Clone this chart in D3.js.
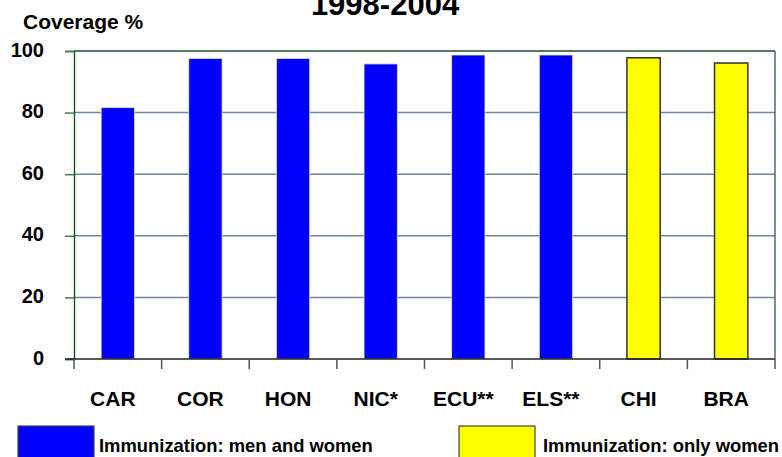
<!DOCTYPE html>
<html>
<head>
<meta charset="utf-8">
<script src="https://cdn.jsdelivr.net/npm/d3@7"></script>
<style>
html,body{margin:0;padding:0;background:#fff;}
svg{display:block;font-family:Arial,"Liberation Sans",sans-serif;font-weight:bold;}
</style>
</head>
<body>
<svg id="chart" width="782" height="457"></svg>
<script>
const categories = ["CAR","COR","HON","NIC*","ECU**","ELS**","CHI","BRA"];
const values = [81.6, 97.6, 97.6, 95.8, 98.7, 98.7, 97.8, 96.1];
const groups = ["both","both","both","both","both","both","women","women"];
const yTicks = [0,20,40,60,80,100];
const legendLabels = ["Immunization: men and women","Immunization: only women"];
const titleText = "1998-2004";
const yTitle = "Coverage %";

const colors = {both:"#0000ff", women:"#ffff00"};
const strokes = {both:"#e6e6a8", women:"#333333"};

const svg = d3.select("#chart");
const x0 = 74, x1 = 775, yBottom = 359, yTop = 51;

const x = d3.scaleBand().domain(categories).range([x0, x1]).padding(0);
const y = d3.scaleLinear().domain([0,100]).range([yBottom, yTop]);
const barW = x.bandwidth() * 0.38;

// title
svg.append("text").attr("x", 385).attr("y", 15).attr("text-anchor","middle")
  .attr("font-size", 31).text(titleText);
svg.append("text").attr("x", 23).attr("y", 29).attr("font-size", 21).text(yTitle);

// gridlines
const grid = svg.append("g");
yTicks.filter(t => t > 0 && t < 100).forEach(t => {
  grid.append("line").attr("x1", x0).attr("x2", x1).attr("y1", y(t)).attr("y2", y(t))
    .attr("stroke", "#6d88a3").attr("stroke-width", 1.5);
});
// top + right border
grid.append("line").attr("x1", x0).attr("x2", x1).attr("y1", y(100)).attr("y2", y(100))
  .attr("stroke", "#234d2e").attr("stroke-width", 1.5);
grid.append("line").attr("x1", x1).attr("x2", x1).attr("y1", y(100)).attr("y2", y(0))
  .attr("stroke", "#234d2e").attr("stroke-width", 1.2);

// y axis
const yAxis = svg.append("g").attr("transform", `translate(${x0},0)`)
  .call(d3.axisLeft(y).tickValues(yTicks).tickSize(9).tickPadding(0).tickFormat(d3.format("d")));
yAxis.select(".domain").attr("stroke", "#0b4a12").attr("stroke-width", 1.3);
yAxis.selectAll(".tick line").attr("stroke", "#4a7a4a").attr("stroke-width", 1.5);
yAxis.selectAll(".tick text").attr("font-size", 20).attr("font-weight","bold")
  .attr("font-family", "Arial,'Liberation Sans',sans-serif").attr("fill","#000")
  .attr("x", -30).attr("dy", null).attr("y", 5).attr("dominant-baseline", null);

// bars
svg.append("g").selectAll("rect").data(categories).join("rect")
  .attr("x", (d) => x(d) + (x.bandwidth() - barW) / 2)
  .attr("y", (d, i) => y(values[i]))
  .attr("width", barW)
  .attr("height", (d, i) => y(0) - y(values[i]))
  .attr("fill", (d, i) => colors[groups[i]])
  .attr("stroke", (d, i) => strokes[groups[i]])
  .attr("stroke-width", (d, i) => groups[i] === "women" ? 1.5 : 0.8);

// x axis
const xb = svg.append("g").attr("transform", `translate(0,${yBottom})`);
xb.append("line").attr("x1", 65).attr("x2", x1).attr("stroke", "#222").attr("stroke-width", 1.5);
const bounds = categories.map(c => x(c)).concat([x1]);
xb.selectAll("line.tk").data(bounds).join("line").attr("class","tk")
  .attr("x1", d => d).attr("x2", d => d).attr("y1", 0).attr("y2", 10)
  .attr("stroke", "#555").attr("stroke-width", 1.5);
xb.selectAll("text").data(categories).join("text")
  .attr("x", d => x(d) + x.bandwidth() / 2 - 5).attr("y", 47)
  .attr("text-anchor", "middle").attr("font-size", 21).text(d => d);

// legend
const leg = svg.append("g");
const legItems = [{c:"both", x:18, tx:99}, {c:"women", x:459, tx:543}];
legItems.forEach((it, i) => {
  leg.append("rect").attr("x", it.x).attr("y", 426).attr("width", 76).attr("height", 40)
    .attr("fill", colors[it.c]).attr("stroke", "#444").attr("stroke-width", 1.2);
  leg.append("text").attr("x", it.tx).attr("y", 452).attr("font-size", 18.4).text(legendLabels[i]);
});
</script>
</body>
</html>
